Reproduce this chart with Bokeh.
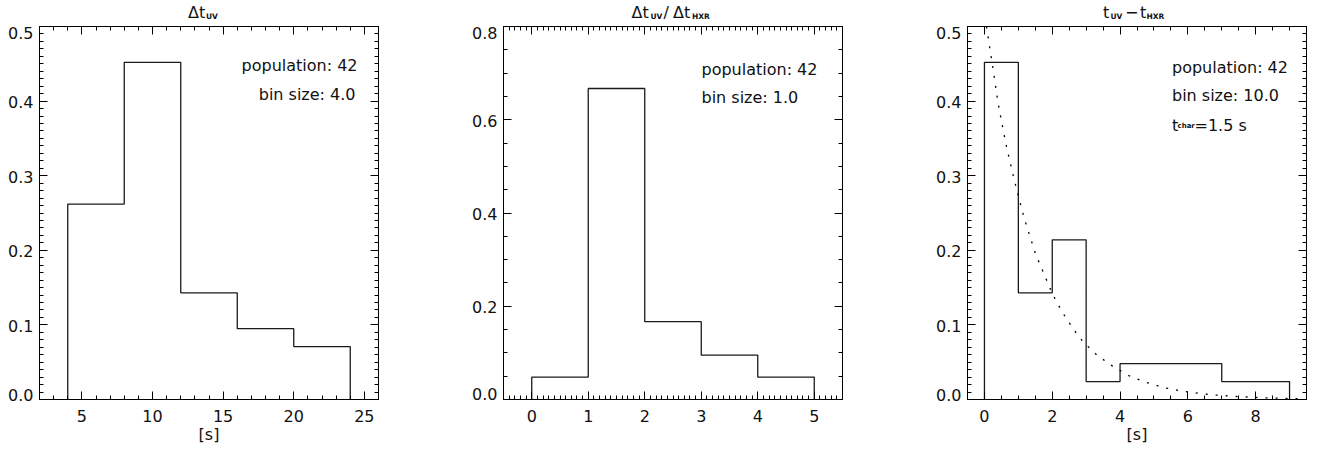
from bokeh.plotting import figure
from bokeh.layouts import row, column
from bokeh.models import (FixedTicker, LinearAxis, Label, CustomJSTickFormatter,
                          Range1d, PrintfTickFormatter, Div)
from bokeh.embed import file_html
from bokeh.resources import INLINE

# ---------------- data ----------------
dt_uv_edges = [4, 8, 12, 16, 20, 24]
dt_uv_freq = [0.262, 0.452, 0.143, 0.095, 0.071]

ratio_edges = [0, 1, 2, 3, 4, 5]
ratio_freq = [0.048, 0.667, 0.167, 0.095, 0.048]

lag_edges = [0, 1, 2, 3, 4, 5, 6, 7, 8, 9]
lag_freq = [0.452, 0.143, 0.214, 0.024, 0.048, 0.048, 0.048, 0.024, 0.024]

fit_x = [0.06, 0.10, 0.23, 0.39, 0.49, 0.65, 0.84, 0.98, 1.18, 1.50, 2.00, 2.31,
         2.75, 2.94, 3.33, 3.78, 4.26, 4.76, 5.29, 5.83, 6.37, 6.91, 7.45, 8.00,
         8.53, 9.10, 9.45]
fit_y = [0.500, 0.488, 0.450, 0.401, 0.376, 0.339, 0.302, 0.276, 0.242, 0.196,
         0.142, 0.116, 0.086, 0.0760, 0.059, 0.0447, 0.032, 0.0230, 0.0160,
         0.0112, 0.0080, 0.0056, 0.0040, 0.0028, 0.0019, 0.0013, 0.0010]

p1_xticks = [5, 10, 15, 20, 25]
p1_yticks = [0.0, 0.1, 0.2, 0.3, 0.4, 0.5]
p2_xticks = [0, 1, 2, 3, 4, 5]
p2_yticks = [0.0, 0.2, 0.4, 0.6, 0.8]
p3_xticks = [0, 2, 4, 6, 8]
p3_yticks = [0.0, 0.1, 0.2, 0.3, 0.4, 0.5]

population = 42
bin_sizes = ["4.0", "1.0", "10.0"]
t_char = "1.5"

FONT = "DejaVu Sans"
INK = "#111111"
STRIP_H = 22          # title strip height
FRAME_TOP = 26        # page y of the frame top
FRAME_W = 339
FRAME_H = 373
PANEL_H = 452 - STRIP_H
TITLE_BASE = 19.0


def frange(a, b, step):
    out = []
    n = int(round((b - a) / step))
    for i in range(n + 1):
        out.append(round(a + i * step, 6))
    return out


def step_path(edges, freq):
    xs = [edges[0]]
    ys = [0.0]
    for i, f in enumerate(freq):
        xs += [edges[i], edges[i + 1]]
        ys += [f, f]
    xs.append(edges[-1])
    ys.append(0.0)
    return xs, ys


def style_axis(ax, labels=True):
    ax.axis_line_color = "black"
    ax.axis_line_width = 1
    ax.major_tick_line_color = "black"
    ax.minor_tick_line_color = "black"
    ax.major_tick_in = 8
    ax.major_tick_out = 0
    ax.minor_tick_in = 4
    ax.minor_tick_out = 0
    ax.major_label_text_font = FONT
    ax.major_label_text_font_size = "16px"
    ax.major_label_text_color = INK
    ax.axis_label_text_font = FONT
    ax.axis_label_text_font_size = "16px"
    ax.axis_label_text_font_style = "normal"
    ax.axis_label_text_color = INK
    if labels:
        ax.major_label_standoff = 6
        ax.axis_label_standoff = 0
    else:
        ax.major_label_standoff = 0
        ax.formatter = CustomJSTickFormatter(code="return ''")


def make_panel(width, left, right, xr, yr, xticks, xminor, yticks, yminor, xlabel):
    p = figure(width=width, height=PANEL_H, x_range=Range1d(*xr), y_range=Range1d(*yr),
               output_backend="svg", toolbar_location=None, title=None,
               min_border_left=left, min_border_right=right,
               min_border_top=FRAME_TOP - STRIP_H,
               min_border_bottom=PANEL_H - (FRAME_TOP - STRIP_H) - FRAME_H,
               background_fill_color="white", border_fill_color="white")
    p.grid.visible = False
    p.outline_line_color = "black"
    xt = FixedTicker(ticks=xticks, minor_ticks=xminor)
    yt = FixedTicker(ticks=yticks, minor_ticks=yminor)
    p.xaxis.ticker = xt
    p.xaxis.formatter = PrintfTickFormatter(format="%d")
    style_axis(p.xaxis[0])
    p.xaxis[0].major_label_standoff = 10
    if xlabel:
        p.xaxis.axis_label = xlabel
    # left axis: ticks only (nearest the frame)
    p.yaxis.ticker = yt
    style_axis(p.yaxis[0], labels=False)
    # outer left axis: the numbers, nudged inward at the ends as in the original
    px_per = (yr[1] - yr[0]) / FRAME_H
    pos = []
    for i, v in enumerate(yticks):
        if i == 0:
            pos.append(round(v + 5 * px_per, 6))
        elif i == len(yticks) - 1:
            pos.append(round(v - 6 * px_per, 6))
        else:
            pos.append(round(v - 1 * px_per, 6))
    lab = LinearAxis(ticker=FixedTicker(ticks=pos, minor_ticks=[]),
                     formatter=CustomJSTickFormatter(
                         args=dict(labels=["%.1f" % v for v in yticks]),
                         code="return labels[index]"))
    style_axis(lab)
    lab.axis_line_color = None
    lab.major_tick_line_color = None
    lab.minor_tick_line_color = None
    lab.major_tick_in = 0
    lab.minor_tick_in = 0
    p.add_layout(lab, "left")
    top = LinearAxis(ticker=xt)
    style_axis(top, labels=False)
    p.add_layout(top, "above")
    rgt = LinearAxis(ticker=yt)
    style_axis(rgt, labels=False)
    p.add_layout(rgt, "right")
    return p


def title_div(width, page_left, pieces):
    """pieces: (page x, text, is_subscript)"""
    spans = []
    for px, text, sub in pieces:
        if sub:
            size, weight, lh = 7.5, "bold", 7.5
        else:
            size, weight, lh = 16.0, "normal", 16.0
        # baseline inside a line box of height lh: half-leading + ascent
        base_in_box = (lh - size * (0.928 + 0.236)) / 2 + size * 0.928
        top = TITLE_BASE - base_in_box
        spans.append(
            '<span style="position:absolute;left:%.1fpx;top:%.2fpx;'
            'font-family:\'%s\';font-size:%.1fpx;font-weight:%s;line-height:%.1fpx;'
            'color:%s;white-space:nowrap">%s</span>'
            % (px - page_left, top, FONT, size, weight, lh, INK, text))
    html = ('<div style="position:relative;width:%dpx;height:%dpx;margin:0;padding:0">'
            % (width, STRIP_H)) + "".join(spans) + "</div>"
    return Div(text=html, width=width, height=STRIP_H, margin=0)


def px_label(p, frame_left, xr, yr, px, py, text, size="16px", align="left", bold=False):
    x = xr[0] + (px - frame_left) / FRAME_W * (xr[1] - xr[0])
    y = yr[0] + (FRAME_TOP + FRAME_H - py) / FRAME_H * (yr[1] - yr[0])
    p.add_layout(Label(x=x, y=y, text=text, text_font=FONT, text_font_size=size,
                       text_color=INK, text_align=align,
                       text_font_style="bold" if bold else "normal",
                       text_baseline="alphabetic"))


# ---------------- panel 1 ----------------
xr1, yr1 = (2, 26), (0, 0.5)
p1 = make_panel(439, 39, 61, xr1, yr1, p1_xticks, frange(2, 26, 1),
                p1_yticks, frange(0, 0.5, 0.01), "[s]")
sx, sy = step_path(dt_uv_edges, dt_uv_freq)
p1.line(sx, sy, line_color="#1a1a1a", line_width=1.3)
t1 = title_div(439, 0, [(188, "\u0394t", False), (206, "UV", True)])
px_label(p1, 39, xr1, yr1, 357, 65, "population: %d" % population, align="right")
px_label(p1, 39, xr1, yr1, 355, 93.5, "bin size: " + bin_sizes[0], align="right")

# ---------------- panel 2 ----------------
xr2, yr2 = (-0.5, 5.5), (0, 0.8)
p2 = make_panel(440, 64, 37, xr2, yr2, p2_xticks, frange(-0.5, 5.5, 0.1),
                p2_yticks, frange(0, 0.8, 0.05), None)
sx, sy = step_path(ratio_edges, ratio_freq)
p2.line(sx, sy, line_color="#1a1a1a", line_width=1.3)
t2 = title_div(440, 439, [(631.5, "\u0394t", False), (650.5, "UV", True),
                          (663.5, "/", False), (673, "\u0394t", False),
                          (692, "HXR", True)])
px_label(p2, 503, xr2, yr2, 701, 68.5, "population: %d" % population)
px_label(p2, 503, xr2, yr2, 701, 96.5, "bin size: " + bin_sizes[1])

# ---------------- panel 3 ----------------
xr3, yr3 = (-0.5, 9.5), (0, 0.5)
p3 = make_panel(439, 88, 12, xr3, yr3, p3_xticks, frange(-0.5, 9.5, 0.5),
                p3_yticks, frange(0, 0.5, 0.01), "[s]")
sx, sy = step_path(lag_edges, lag_freq)
p3.line(sx, sy, line_color="#1a1a1a", line_width=1.3)
p3.line(fit_x, fit_y, line_color="black", line_width=1.3, line_dash="2 8")
t3 = title_div(439, 879, [(1103, "t", False), (1110.5, "UV", True),
                          (1125, "\u2212", False), (1140, "t", False),
                          (1146.5, "HXR", True)])
px_label(p3, 967, xr3, yr3, 1171.5, 66.5, "population: %d" % population)
px_label(p3, 967, xr3, yr3, 1171.5, 95, "bin size: " + bin_sizes[2])
px_label(p3, 967, xr3, yr3, 1171.5, 125, "t")
px_label(p3, 967, xr3, yr3, 1177, 125, "char", size="7px", bold=True)
px_label(p3, 967, xr3, yr3, 1194, 125, "=" + t_char + " s")

layout = row(column(t1, p1), column(t2, p2), column(t3, p3))
open("out.html", "w").write(file_html(layout, INLINE))
